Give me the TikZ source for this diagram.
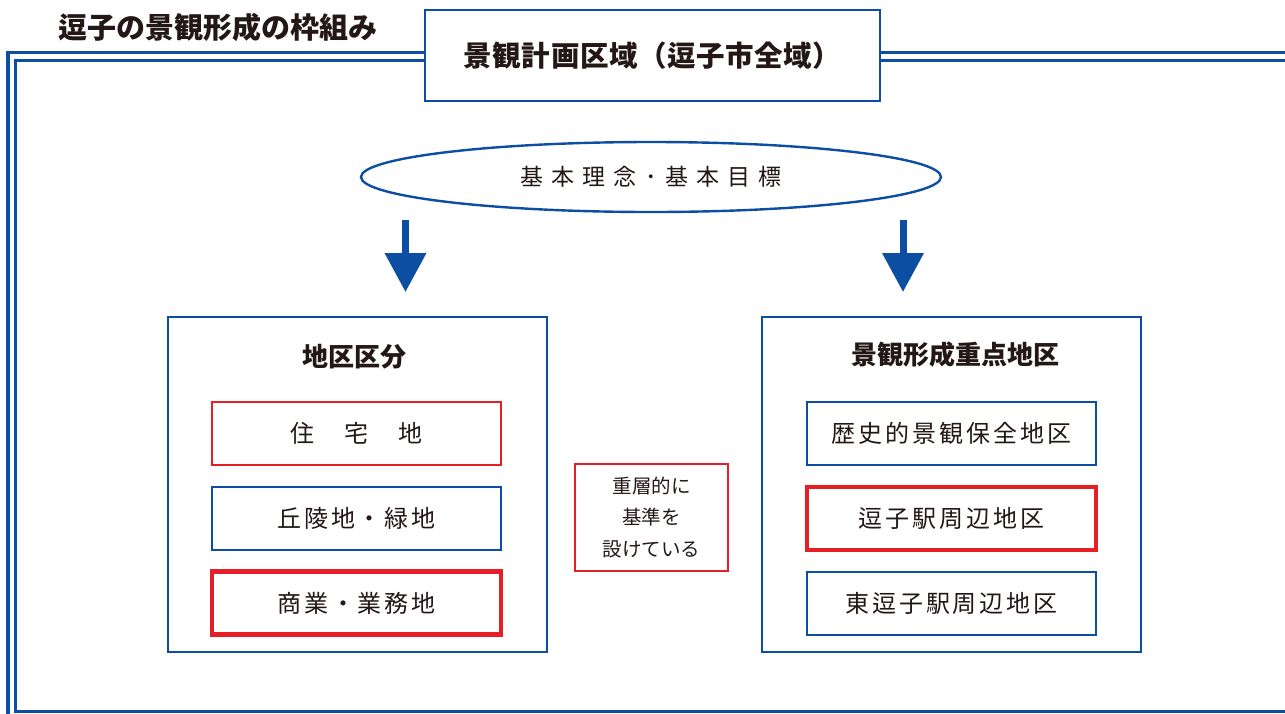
\documentclass[tikz,border=0pt]{standalone}
\usepackage{fontspec}
\setmainfont{Noto Sans CJK JP}
\usetikzlibrary{arrows.meta,shapes.geometric}
\definecolor{fblue}{HTML}{0B4EA2}
\definecolor{fred}{HTML}{E61E25}
\definecolor{ftext}{HTML}{231815}
\tikzset{
  framebox/.style={draw=fblue, line width=2.6pt, fill=white, inner sep=0pt},
  itemblue/.style={draw=fblue, line width=2pt, fill=white, minimum width=289pt, minimum height=63pt, inner sep=0pt, text=ftext, font=\fontsize{24pt}{28pt}\selectfont\addfontfeature{LetterSpace=12}},
  itemred/.style={itemblue, draw=fred, line width=1.8pt},
  itemredthick/.style={itemblue, draw=fred, line width=4.2pt},
  downarrow/.style={draw=fblue, line width=7pt, -{Triangle[width=40pt,length=39pt]}},
  headtext/.style={text=ftext, font=\fontsize{26pt}{30pt}\selectfont\bfseries},
}
\begin{document}
\begin{tikzpicture}[x=1pt,y=-1pt]
\useasboundingbox (0,0) rectangle (1285,713);
% double frame
\draw[fblue, line width=3.2pt] (8,730) -- (8,52.5) -- (1300,52.5);
\draw[fblue, line width=3pt] (1300,60.5) -- (15.5,60.5) -- (15.5,711) -- (1300,711);
% headline
\node[text=ftext, font=\fontsize{29pt}{33pt}\selectfont\bfseries, inner sep=0pt] (ttl) at (218,27) {逗子の景観形成の枠組み};
% plan area box
\node[framebox, minimum width=455pt, minimum height=91pt, text=ftext, font=\fontsize{28.5pt}{32pt}\selectfont\bfseries\addfontfeature{LetterSpace=2}] (area) at (652.5,55.5) {景観計画区域（逗子市全域）};
% ellipse
\node[draw=fblue, line width=2.4pt, ellipse, minimum width=580pt, minimum height=70pt, inner sep=0pt, text=ftext, font=\fontsize{23pt}{27pt}\selectfont\addfontfeature{LetterSpace=36}] (goal) at (651,177) {基本理念･基本目標};
% arrows
\coordinate (la1) at (405.5,220);
\coordinate (la2) at (405.5,292);
\coordinate (ra1) at (903,220);
\coordinate (ra2) at (903,292);
\draw[downarrow] (la1) -- (la2);
\draw[downarrow] (ra1) -- (ra2);
% left panel
\node[draw=fblue, line width=2.4pt, minimum width=379pt, minimum height=335pt, inner sep=0pt] (left) at (357.5,484.5) {};
\node[headtext] (lt) at (354,357) {地区区分};
\node[itemred] (b1) at (356.5,433.5) {住　宅　地};
\node[itemblue] (b2) at (356.5,518.5) {丘陵地・緑地};
\node[itemredthick] (b3) at (356.5,603) {商業・業務地};
% right panel
\node[draw=fblue, line width=2.4pt, minimum width=379pt, minimum height=335pt, inner sep=0pt] (right) at (951.5,484.5) {};
\node[headtext] (rt) at (955,355) {景観形成重点地区};
\node[itemblue] (c1) at (951.5,433.5) {歴史的景観保全地区};
\node[itemredthick] (c2) at (951.5,518.5) {逗子駅周辺地区};
\node[itemblue] (c3) at (951.5,603) {東逗子駅周辺地区};
% center note
\node[draw=fred, line width=1.8pt, minimum width=153pt, minimum height=107pt, inner sep=0pt, text=ftext, align=center, font=\fontsize{19.5pt}{31.5pt}\selectfont] (mid) at (651.5,517.5) {重層的に\\基準を\\設けている};
\end{tikzpicture}
\end{document}
